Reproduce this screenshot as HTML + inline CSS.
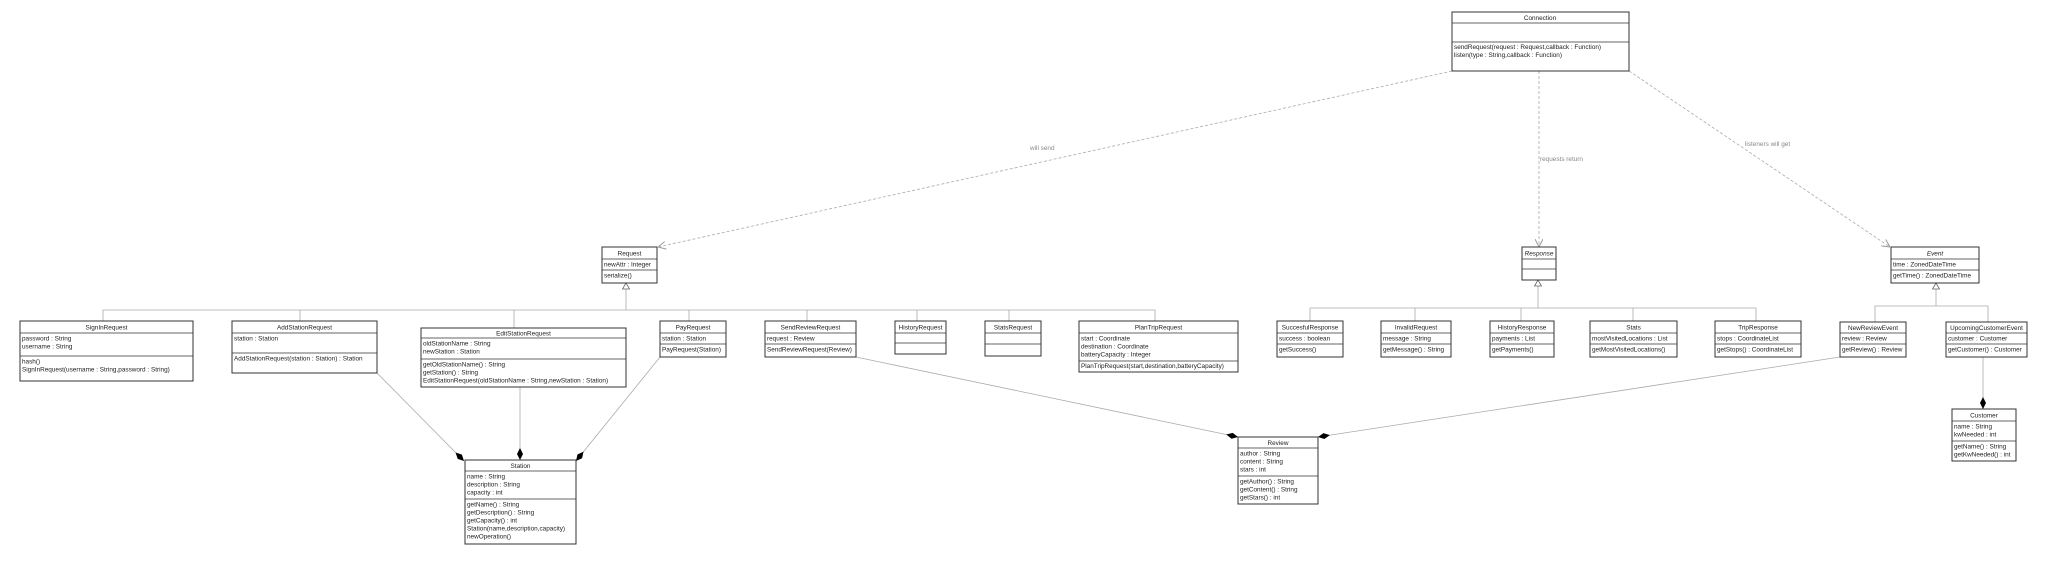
<!DOCTYPE html>
<html><head><meta charset="utf-8"><style>
html,body{margin:0;padding:0;background:#fff;}
svg{display:block;}
text{font-family:"Liberation Sans","DejaVu Sans",sans-serif;font-size:6.4px;fill:#222;}
.t{text-anchor:middle;}
.b{fill:#fff;stroke:#333;stroke-width:1;}
.s{fill:none;stroke:#aaa;stroke-width:1;}
.d{stroke:#333;stroke-width:0.8;}
.l{stroke:#aaa;stroke-width:0.8;fill:none;}
.dash{stroke:#aaa;stroke-width:0.8;fill:none;stroke-dasharray:3,2;}
.lab{fill:#888;font-size:6.4px;}
</style></head><body>
<svg width="2048" height="571" viewBox="0 0 2048 571" xmlns="http://www.w3.org/2000/svg">
<defs>
<marker id="dia" viewBox="0 0 12 6" refX="12" refY="3" markerWidth="12" markerHeight="6" markerUnits="userSpaceOnUse" orient="auto">
<path d="M0,3 L6,0 L12,3 L6,6 Z" fill="#000"/></marker>
<marker id="open" viewBox="0 0 10 10" refX="10" refY="5" markerWidth="8" markerHeight="8" markerUnits="userSpaceOnUse" orient="auto">
<path d="M0,0 L10,5 L0,10" fill="none" stroke="#999" stroke-width="1.2"/></marker>
</defs>

<!-- dependency lines -->
<line class="dash" x1="1452" y1="71" x2="658" y2="247" marker-end="url(#open)"/>
<line class="dash" x1="1539" y1="71" x2="1539" y2="247" marker-end="url(#open)"/>
<line class="dash" x1="1629" y1="71" x2="1890" y2="247" marker-end="url(#open)"/>
<text class="lab" x="1030" y="150">will send</text>
<text class="lab" x="1540" y="161">requests return</text>
<text class="lab" x="1745" y="146">listeners will get</text>

<!-- inheritance: Request -->
<polyline class="l" points="103,321 103,310 1155,310 1155,321"/>
<line class="l" x1="626" y1="289" x2="626" y2="310"/>
<line class="l" x1="300" y1="310" x2="300" y2="321"/>
<line class="l" x1="514" y1="310" x2="514" y2="328"/>
<line class="l" x1="689" y1="310" x2="689" y2="321"/>
<line class="l" x1="807" y1="310" x2="807" y2="321"/>
<line class="l" x1="917" y1="310" x2="917" y2="321"/>
<line class="l" x1="1009" y1="310" x2="1009" y2="321"/>
<polygon points="626,283 622.5,289 629.5,289" fill="#fff" stroke="#666" stroke-width="0.8"/>

<!-- inheritance: Response -->
<polyline class="l" points="1310,321 1310,308 1756,308 1756,321"/>
<line class="l" x1="1538" y1="286" x2="1538" y2="308"/>
<line class="l" x1="1415" y1="308" x2="1415" y2="321"/>
<line class="l" x1="1521" y1="308" x2="1521" y2="321"/>
<line class="l" x1="1633" y1="308" x2="1633" y2="321"/>
<polygon points="1538,280 1534.5,286 1541.5,286" fill="#fff" stroke="#666" stroke-width="0.8"/>

<!-- inheritance: Event -->
<polyline class="l" points="1875,322 1875,306 1988,306 1988,322"/>
<line class="l" x1="1936" y1="289" x2="1936" y2="306"/>
<polygon points="1936,283 1932.5,289 1939.5,289" fill="#fff" stroke="#666" stroke-width="0.8"/>

<!-- composition -->
<line class="l" x1="377" y1="373" x2="464" y2="461" marker-end="url(#dia)"/>
<line class="l" x1="520" y1="387" x2="520" y2="460" marker-end="url(#dia)"/>
<line class="l" x1="660" y1="357" x2="576" y2="461" marker-end="url(#dia)"/>
<line class="l" x1="856" y1="357" x2="1238" y2="437" marker-end="url(#dia)"/>
<line class="l" x1="1840" y1="357" x2="1318" y2="437" marker-end="url(#dia)"/>
<line class="l" x1="1983" y1="357" x2="1983" y2="409" marker-end="url(#dia)"/>

<!-- Connection -->
<rect class="b" x="1452" y="12" width="177" height="59"/>
<line class="d" x1="1452" y1="23" x2="1629" y2="23"/><line class="d" x1="1452" y1="42" x2="1629" y2="42"/>
<text class="t" x="1540" y="20">Connection</text>
<text x="1454" y="49">sendRequest(request : Request,callback : Function)</text>
<text x="1454" y="57">listen(type : String,callback : Function)</text>

<!-- Request -->
<rect class="b" x="602" y="247" width="55" height="36"/>
<line class="d" x1="602" y1="259" x2="657" y2="259"/><line class="d" x1="602" y1="270" x2="657" y2="270"/>
<text class="t" x="629.5" y="255.5">Request</text>
<text x="604" y="266.5">newAttr : Integer</text>
<text x="604" y="277.5">serialize()</text>

<!-- Response -->
<rect class="b" x="1522" y="247" width="34" height="33"/>
<line class="d" x1="1522" y1="259" x2="1556" y2="259"/><line class="d" x1="1522" y1="269" x2="1556" y2="269"/>
<text class="t" x="1539" y="255.5" font-style="italic">Response</text>

<!-- Event -->
<rect class="b" x="1891" y="247" width="88" height="36"/>
<line class="d" x1="1891" y1="259" x2="1979" y2="259"/><line class="d" x1="1891" y1="270" x2="1979" y2="270"/>
<text class="t" x="1935" y="255.5" font-style="italic">Event</text>
<text x="1893" y="266.5">time : ZonedDateTime</text>
<text x="1893" y="277.5">getTime() : ZonedDateTime</text>

<!-- SignInRequest -->
<rect class="b" x="20" y="321" width="173" height="60"/>
<line class="d" x1="20" y1="333" x2="193" y2="333"/><line class="d" x1="20" y1="356" x2="193" y2="356"/>
<text class="t" x="106.5" y="329.5">SignInRequest</text>
<text x="22" y="340.5">password : String</text>
<text x="22" y="348.5">username : String</text>
<text x="22" y="363.5">hash()</text>
<text x="22" y="371.5">SignInRequest(username : String,password : String)</text>

<!-- AddStationRequest -->
<rect class="b" x="232" y="321" width="145" height="52"/>
<line class="d" x1="232" y1="333" x2="377" y2="333"/><line class="d" x1="232" y1="353" x2="377" y2="353"/>
<text class="t" x="304.5" y="329.5">AddStationRequest</text>
<text x="234" y="340.5">station : Station</text>
<text x="234" y="360.5">AddStationRequest(station : Station) : Station</text>

<!-- EditStationRequest -->
<rect class="b" x="421" y="328" width="205" height="59"/>
<line class="d" x1="421" y1="338" x2="626" y2="338"/><line class="d" x1="421" y1="359" x2="626" y2="359"/>
<text class="t" x="523.5" y="335.5">EditStationRequest</text>
<text x="423" y="345.5">oldStationName : String</text>
<text x="423" y="353.5">newStation : Station</text>
<text x="423" y="366.5">getOldStationName() : String</text>
<text x="423" y="374.5">getStation() : String</text>
<text x="423" y="382.5">EditStationRequest(oldStationName : String,newStation : Station)</text>

<!-- PayRequest -->
<rect class="b" x="660" y="321" width="66" height="36"/>
<line class="d" x1="660" y1="333" x2="726" y2="333"/><line class="d" x1="660" y1="344" x2="726" y2="344"/>
<text class="t" x="693" y="329.5">PayRequest</text>
<text x="662" y="340.5">station : Station</text>
<text x="662" y="351.5">PayRequest(Station)</text>

<!-- SendReviewRequest -->
<rect class="b" x="765" y="321" width="91" height="36"/>
<line class="d" x1="765" y1="333" x2="856" y2="333"/><line class="d" x1="765" y1="344" x2="856" y2="344"/>
<text class="t" x="810.5" y="329.5">SendReviewRequest</text>
<text x="767" y="340.5">request : Review</text>
<text x="767" y="351.5">SendReviewRequest(Review)</text>

<!-- HistoryRequest -->
<rect class="b" x="895" y="321" width="51" height="33"/>
<line class="d" x1="895" y1="333" x2="946" y2="333"/><line class="d" x1="895" y1="343" x2="946" y2="343"/>
<text class="t" x="920.5" y="329.5">HistoryRequest</text>

<!-- StatsRequest -->
<rect class="b" x="985" y="321" width="56" height="35"/>
<line class="d" x1="985" y1="333" x2="1041" y2="333"/><line class="d" x1="985" y1="344" x2="1041" y2="344"/>
<text class="t" x="1013" y="329.5">StatsRequest</text>

<!-- PlanTripRequest -->
<rect class="b" x="1079" y="321" width="159" height="51"/>
<line class="d" x1="1079" y1="333" x2="1238" y2="333"/><line class="d" x1="1079" y1="361" x2="1238" y2="361"/>
<text class="t" x="1158.5" y="329.5">PlanTripRequest</text>
<text x="1081" y="340.5">start : Coordinate</text>
<text x="1081" y="348.5">destination : Coordinate</text>
<text x="1081" y="356.5">batteryCapacity : Integer</text>
<text x="1081" y="368">PlanTripRequest(start,destination,batteryCapacity)</text>

<!-- SuccesfulResponse -->
<rect class="b" x="1277" y="321" width="66" height="36"/>
<line class="d" x1="1277" y1="333" x2="1343" y2="333"/><line class="d" x1="1277" y1="344" x2="1343" y2="344"/>
<text class="t" x="1310" y="329.5">SuccesfulResponse</text>
<text x="1279" y="340.5">success : boolean</text>
<text x="1279" y="351.5">getSuccess()</text>

<!-- InvalidRequest -->
<rect class="b" x="1381" y="321" width="70" height="36"/>
<line class="d" x1="1381" y1="333" x2="1451" y2="333"/><line class="d" x1="1381" y1="344" x2="1451" y2="344"/>
<text class="t" x="1416" y="329.5">InvalidRequest</text>
<text x="1383" y="340.5">message : String</text>
<text x="1383" y="351.5">getMessage() : String</text>

<!-- HistoryResponse -->
<rect class="b" x="1490" y="321" width="64" height="36"/>
<line class="d" x1="1490" y1="333" x2="1554" y2="333"/><line class="d" x1="1490" y1="344" x2="1554" y2="344"/>
<text class="t" x="1522" y="329.5">HistoryResponse</text>
<text x="1492" y="340.5">payments : List</text>
<text x="1492" y="351.5">getPayments()</text>

<!-- Stats -->
<rect class="b" x="1590" y="321" width="87" height="36"/>
<line class="d" x1="1590" y1="333" x2="1677" y2="333"/><line class="d" x1="1590" y1="344" x2="1677" y2="344"/>
<text class="t" x="1633.5" y="329.5">Stats</text>
<text x="1592" y="340.5">mostVisitedLocations : List</text>
<text x="1592" y="351.5">getMostVisitedLocations()</text>

<!-- TripResponse -->
<rect class="b" x="1715" y="321" width="86" height="36"/>
<line class="d" x1="1715" y1="333" x2="1801" y2="333"/><line class="d" x1="1715" y1="344" x2="1801" y2="344"/>
<text class="t" x="1758" y="329.5">TripResponse</text>
<text x="1717" y="340.5">stops : CoordinateList</text>
<text x="1717" y="351.5">getStops() : CoordinateList</text>

<!-- NewReviewEvent -->
<rect class="b" x="1840" y="322" width="66" height="35"/>
<line class="d" x1="1840" y1="333" x2="1906" y2="333"/><line class="d" x1="1840" y1="344" x2="1906" y2="344"/>
<text class="t" x="1873" y="330">NewReviewEvent</text>
<text x="1842" y="340.5">review : Review</text>
<text x="1842" y="351.5">getReview() : Review</text>

<!-- UpcomingCustomerEvent -->
<rect class="b" x="1946" y="322" width="81" height="35"/>
<line class="d" x1="1946" y1="333" x2="2027" y2="333"/><line class="d" x1="1946" y1="344" x2="2027" y2="344"/>
<text class="t" x="1986.5" y="330">UpcomingCustomerEvent</text>
<text x="1948" y="340.5">customer : Customer</text>
<text x="1948" y="351.5">getCustomer() : Customer</text>

<!-- Station -->
<rect class="b" x="465" y="460" width="111" height="84"/>
<line class="d" x1="465" y1="471" x2="576" y2="471"/><line class="d" x1="465" y1="499" x2="576" y2="499"/>
<text class="t" x="520.5" y="468">Station</text>
<text x="467" y="478.5">name : String</text>
<text x="467" y="486.5">description : String</text>
<text x="467" y="494.5">capacity : int</text>
<text x="467" y="506.5">getName() : String</text>
<text x="467" y="514.5">getDescription() : String</text>
<text x="467" y="522.5">getCapacity() : int</text>
<text x="467" y="530.5">Station(name,description,capacity)</text>
<text x="467" y="538.5">newOperation()</text>

<!-- Review -->
<rect class="b" x="1238" y="437" width="80" height="67"/>
<line class="d" x1="1238" y1="448" x2="1318" y2="448"/><line class="d" x1="1238" y1="476" x2="1318" y2="476"/>
<text class="t" x="1278" y="445">Review</text>
<text x="1240" y="455.5">author : String</text>
<text x="1240" y="463.5">content : String</text>
<text x="1240" y="471.5">stars : int</text>
<text x="1240" y="483.5">getAuthor() : String</text>
<text x="1240" y="491.5">getContent() : String</text>
<text x="1240" y="499.5">getStars() : int</text>

<!-- Customer -->
<rect class="b" x="1952" y="409" width="64" height="52"/>
<line class="d" x1="1952" y1="421" x2="2016" y2="421"/><line class="d" x1="1952" y1="441" x2="2016" y2="441"/>
<text class="t" x="1984" y="417.5">Customer</text>
<text x="1954" y="428.5">name : String</text>
<text x="1954" y="436.5">kwNeeded : int</text>
<text x="1954" y="448.5">getName() : String</text>
<text x="1954" y="456.5">getKwNeeded() : int</text>
</svg>
</body></html>
